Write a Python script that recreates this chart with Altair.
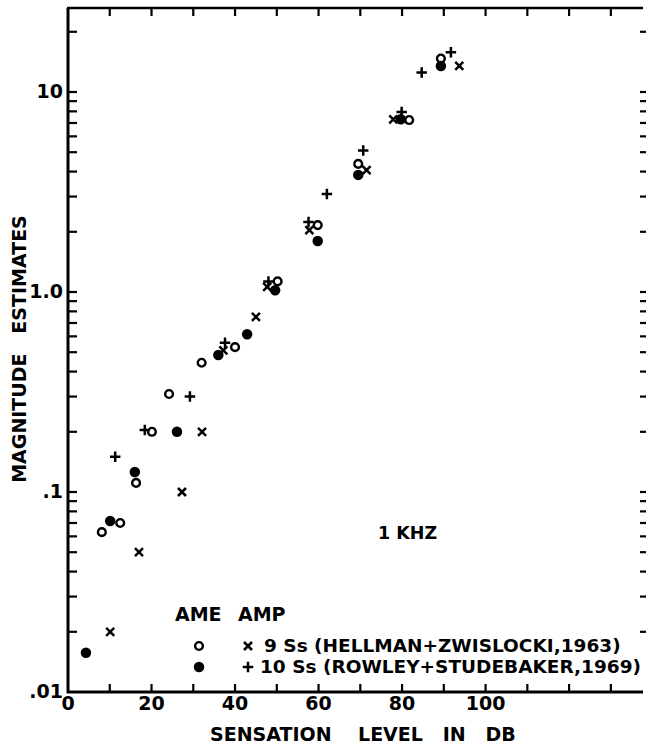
import altair as alt
import pandas as pd

# ---- data ----
# AME (open circles) - Hellman + Zwislocki 1963
ame_hz_db = [8.1, 12.5, 16.3, 20.1, 24.2, 32.0, 40.0, 50.2, 59.8, 69.5, 81.7, 89.3]
ame_hz_val = [0.063, 0.070, 0.111, 0.2, 0.309, 0.443, 0.53, 1.13, 2.16, 4.37, 7.24, 14.7]
# AMP (x) - Hellman + Zwislocki 1963
amp_hz_db = [10.1, 17.0, 27.3, 32.1, 37.2, 45.0, 47.7, 57.8, 71.5, 77.9, 93.7]
amp_hz_val = [0.02, 0.05, 0.1, 0.2, 0.51, 0.75, 1.06, 2.04, 4.07, 7.3, 13.5]
# AME (filled circles) - Rowley + Studebaker 1969
ame_rs_db = [4.3, 10.1, 16.0, 26.1, 36.0, 42.9, 49.6, 59.8, 69.5, 79.7, 89.3]
ame_rs_val = [0.0157, 0.0716, 0.126, 0.2, 0.484, 0.615, 1.02, 1.8, 3.85, 7.3, 13.5]
# AMP (+) - Rowley + Studebaker 1969
amp_rs_db = [11.3, 18.4, 29.2, 37.6, 48.0, 57.6, 62.0, 70.7, 79.9, 84.7, 91.7]
amp_rs_val = [0.15, 0.204, 0.3, 0.558, 1.13, 2.24, 3.09, 5.1, 7.95, 12.5, 15.8]

x_label_values = [0, 20, 40, 60, 80, 100]
x_label_texts = ["0", "20", "40", "60", "80", "100"]
x_tick_values = [10, 20, 30, 40, 50, 60, 70, 80, 90, 100, 110, 120, 130]
y_label_values = [0.01, 0.1, 1, 10]
y_label_texts = [".01", ".1", "1.0", "10"]
y_tick_values = [0.02, 0.03, 0.04, 0.05, 0.06, 0.07, 0.08, 0.09,
                 0.1, 0.2, 0.3, 0.4, 0.5, 0.6, 0.7, 0.8, 0.9,
                 1, 2, 3, 4, 5, 6, 7, 8, 9, 10, 20]

FONT = "DejaVu Sans"
W, H = 575, 684
xscale = alt.Scale(domain=[0, 137.7], nice=False, zero=False)
yscale = alt.Scale(type="log", domain=[0.01, 26.3], nice=False)

def df(xs, ys):
    return pd.DataFrame({"db": xs, "val": ys})

X_PATH = "M-1,-1L1,1M-1,1L1,-1"
PLUS_PATH = "M-1,0L1,0M0,-1L0,1"

def enc(c):
    return c.encode(x=alt.X("db:Q", scale=xscale, axis=None),
                    y=alt.Y("val:Q", scale=yscale, axis=None))

open_c = enc(alt.Chart(df(ame_hz_db, ame_hz_val)).mark_point(
    shape="circle", filled=False, size=60, strokeWidth=2.4, color="black", opacity=1))
filled_c = enc(alt.Chart(df(ame_rs_db, ame_rs_val)).mark_point(
    shape="circle", filled=True, size=110, color="black", opacity=1))
xs = enc(alt.Chart(df(amp_hz_db, amp_hz_val)).mark_point(
    shape=X_PATH, filled=False, size=64, strokeWidth=2.5, color="black", opacity=1))
plus = enc(alt.Chart(df(amp_rs_db, amp_rs_val)).mark_point(
    shape=PLUS_PATH, filled=False, size=110, strokeWidth=2.5, color="black", opacity=1))

one = pd.DataFrame({"a": [0]})
frame_left = alt.Chart(one).mark_rule(color="black", strokeWidth=3).encode(
    x=alt.value(0), y=alt.value(0), y2=alt.value(H + 1))
frame_bottom = alt.Chart(one).mark_rule(color="black", strokeWidth=3).encode(
    x=alt.value(-1), x2=alt.value(W), y=alt.value(H))
frame_top = alt.Chart(one).mark_rule(color="black", strokeWidth=2.5).encode(
    x=alt.value(-1), x2=alt.value(W), y=alt.value(0))

xt = pd.DataFrame({"v": x_tick_values})
yt = pd.DataFrame({"v": y_tick_values})
ticks_bottom = alt.Chart(xt).mark_rule(color="black", strokeWidth=2.2).encode(
    x=alt.X("v:Q", scale=xscale, axis=None), y=alt.value(H - 8), y2=alt.value(H))
ticks_top = alt.Chart(xt).mark_rule(color="black", strokeWidth=2.2).encode(
    x=alt.X("v:Q", scale=xscale, axis=None), y=alt.value(0), y2=alt.value(8))
ticks_left = alt.Chart(yt).mark_rule(color="black", strokeWidth=2.2).encode(
    y=alt.Y("v:Q", scale=yscale, axis=None), x=alt.value(0), x2=alt.value(9))
ticks_right = alt.Chart(yt).mark_rule(color="black", strokeWidth=2.2).encode(
    y=alt.Y("v:Q", scale=yscale, axis=None), x=alt.value(W - 3), x2=alt.value(W + 3))

xl = pd.DataFrame({"v": x_label_values, "t": x_label_texts})
yl = pd.DataFrame({"v": y_label_values, "t": y_label_texts})
x_labels = alt.Chart(xl).mark_text(font=FONT, fontSize=19, fontWeight="bold", color="black",
                                   align="center", baseline="middle").encode(
    x=alt.X("v:Q", scale=xscale, axis=None), y=alt.value(H + 12), text="t:N")
y_labels = alt.Chart(yl).mark_text(font=FONT, fontSize=19, fontWeight="bold", color="black",
                                   align="right", baseline="middle").encode(
    y=alt.Y("v:Q", scale=yscale, axis=None), x=alt.value(-5), text="t:N")

NB = "\u00a0"
def text(t, x, y, size=19, align="left", angle=0):
    return alt.Chart(one).mark_text(
        text=t, font=FONT, fontSize=size, fontWeight="bold", color="black", align=align,
        baseline="middle", angle=angle
    ).encode(x=alt.value(x), y=alt.value(y))

x_title = text("SENSATION" + NB * 4 + "LEVEL" + NB * 3 + "IN" + NB * 3 + "DB", 142, 727, size=19)
y_title = text("MAGNITUDE" + NB * 3 + "ESTIMATES", -48, 341, size=19, align="center", angle=270)
khz = text("1 KHZ", 310, 526, size=17.5)
leg_head1 = text("AME", 107, 607, size=19)
leg_head2 = text("AMP", 170, 607, size=19)
leg_row1 = text("9 Ss (HELLMAN+ZWISLOCKI,1963)", 196, 638, size=18.5)
leg_row2 = text("10 Ss (ROWLEY+STUDEBAKER,1969)", 192, 659, size=18.5)

def leg_pt(shape, filled, size, x, y, sw=2.4):
    m = alt.Chart(one).mark_point(shape=shape, filled=filled, size=size, strokeWidth=sw,
                                  color="black", opacity=1)
    return m.encode(x=alt.value(x), y=alt.value(y))

leg_open = leg_pt("circle", False, 60, 131, 638)
leg_fill = leg_pt("circle", True, 110, 131, 659)
leg_x = leg_pt(X_PATH, False, 64, 180, 638, 2.5)
leg_plus = leg_pt(PLUS_PATH, False, 110, 180, 659, 2.5)

chart = alt.layer(
    open_c, filled_c, xs, plus,
    frame_left, frame_bottom, frame_top,
    ticks_bottom, ticks_top, ticks_left, ticks_right,
    x_labels, y_labels,
    x_title, y_title, khz, leg_head1, leg_head2, leg_row1, leg_row2,
    leg_open, leg_fill, leg_x, leg_plus,
).properties(
    width=W, height=H,
    autosize=alt.AutoSizeParams(type="none"),
    padding={"left": 68, "top": 8, "right": 4, "bottom": 54},
    background="white",
).configure_view(stroke=None)

chart.save("out.html", embed_options={"renderer": "svg", "actions": False})
